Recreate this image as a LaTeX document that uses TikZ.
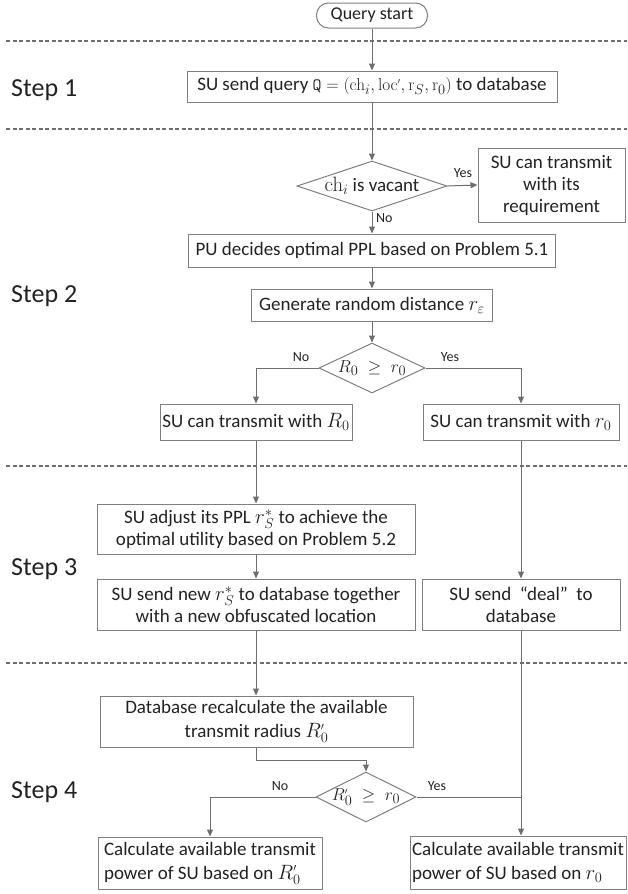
\documentclass[tikz,border=0pt]{standalone}
\usepackage[no-math]{fontspec}
\setmainfont{Carlito}
\usetikzlibrary{arrows.meta,shapes.geometric,calc}
\definecolor{linegray}{HTML}{6E6E6E}
\definecolor{boxgray}{HTML}{7F7F7F}
\definecolor{txt}{HTML}{222222}
% larger math symbols inside the boxes
\newcommand{\symm}[1]{{\fontsize{21}{21}\selectfont$#1$}}
% small prime as used in the formulas
\newcommand{\pr}{{\scriptscriptstyle\prime}}
\begin{document}
\begin{tikzpicture}[x=1pt,y=-1pt,
  every node/.style={font=\fontsize{19}{22}\selectfont, text=txt},
  box/.style={draw=boxgray, line width=1pt, inner sep=2pt, align=center},
  tallbox/.style={box, font=\fontsize{19}{24}\selectfont},
  dia/.style={draw=boxgray, line width=1pt, diamond, inner sep=0pt},
  arr/.style={draw=linegray, line width=1pt, -{Triangle[length=7pt,width=6pt]}},
  ln/.style={draw=linegray, line width=1pt},
  sep/.style={draw=linegray, line width=1.5pt, dash pattern=on 4pt off 2.5pt},
  steplbl/.style={font=\fontsize{26}{30}\selectfont, anchor=base west, inner sep=0pt},
  yn/.style={font=\fontsize{14}{16}\selectfont, inner sep=1pt}]
\useasboundingbox (0,0) rectangle (627,894);

% stage separators
\foreach \yy in {41,129,466,663} \draw[sep] (6,\yy) -- (627,\yy);

% stage labels
\node[steplbl] (s1) at (11,96) {Step 1};
\node[steplbl] (s2) at (11,302) {Step 2};
\node[steplbl] (s3) at (11,575) {Step 3};
\node[steplbl] (s4) at (11,798) {Step 4};

% nodes
\node[box, rounded corners=12pt, minimum width=111pt, minimum height=25pt, font=\fontsize{18}{20}\selectfont] (start) at (372,15.5) {Query start};
\node[box, minimum width=370pt, minimum height=31pt] (q) at (372,86.5)
  {SU send query $\mathtt{Q}=(\mathrm{ch}_i,\mathrm{loc}^{\pr},\mathrm{r}_S,\mathrm{r}_0)$ to database};
\node[dia, minimum width=150pt, minimum height=50pt] (d1) at (372,186) {};
\node (d1t) at (d1) {\symm{\mathrm{ch}_i} is vacant};
\node[box, minimum width=147pt, minimum height=74pt] (ok) at (551.5,185)
  {SU can transmit\\with its\\requirement};
\node[box, minimum width=367pt, minimum height=33pt] (pu) at (372,250.5)
  {PU decides optimal PPL based on Problem 5.1};
\node[box, minimum width=241pt, minimum height=32pt] (gen) at (372,305)
  {Generate random distance \symm{r_\varepsilon}};
\node[dia, minimum width=106pt, minimum height=50pt] (d2) at (372,368) {};
\node (d2t) at (d2) {$R_0\;\geq\;r_0$};
\node[box, minimum width=192pt, minimum height=36pt] (rl) at (256,422)
  {SU can transmit with \symm{R_0}};
\node[box, minimum width=196pt, minimum height=36pt] (rr) at (521,422)
  {SU can transmit with \symm{r_0}};
\node[box, minimum width=318pt, minimum height=50pt] (adj) at (256,529)
  {SU adjust its PPL \symm{r_S^*} to achieve the\\optimal utility based on Problem 5.2};
\node[box, minimum width=318pt, minimum height=51pt] (snd) at (256,604.5)
  {SU send new \symm{r_S^*} to database together\\with a new obfuscated location};
\node[box, minimum width=198pt, minimum height=51pt] (deal) at (521,604.5)
  {SU send~~“deal”~~to\\database};
\node[tallbox, minimum width=313pt, minimum height=51pt] (db) at (256.5,721.5)
  {Database recalculate the available\\transmit radius \symm{R_0^{\pr}}};
\node[dia, minimum width=100pt, minimum height=50pt] (d3) at (366,797) {};
\node (d3t) at (d3) {$R_0^{\pr}\;\geq\;r_0$};
\node[tallbox, minimum width=224pt, minimum height=52pt, align=left] (outl) at (210,863)
  {Calculate available transmit\\power of SU based on \symm{R_0^{\pr}}};
\node[tallbox, minimum width=216pt, minimum height=53pt, align=left] (outr) at (518,862.5)
  {Calculate available transmit\\power of SU based on \symm{r_0}};

% connectors
\draw[arr] (start.south) -- (q.north);
\draw[arr] (q.south) -- (d1.north);
\draw[arr] (d1.east) -- (ok.west);
\draw[arr] (d1.south) -- (pu.north);
\draw[arr] (pu.south) -- (gen.north);
\draw[arr] (gen.south) -- (d2.north);
\draw[arr] (d2.west) -| (rl.north);
\draw[arr] (d2.east) -| (rr.north);
\draw[arr] (rl.south) -- (adj.north);
\draw[arr] (adj.south) -- (snd.north);
\draw[arr] (rr.south) -- (deal.north);
\draw[arr] (snd.south) -- (snd.south |- db.north);
\draw[arr] (db.south) -- ++(0,13) -| (d3.north);
\draw[arr] (d3.west) -| (outl.north);
\draw[arr] (deal.south) -- (deal.south |- outr.north);
\draw[ln] (d3.east) -- (d3.east -| deal.south);

% branch labels
\node[yn] (y1) at (463,173) {Yes};
\node[yn, anchor=west] (n1) at (375,218) {No};
\node[yn] (n2) at (301,357) {No};
\node[yn] (y2) at (450,357) {Yes};
\node[yn] (n3) at (280,786) {No};
\node[yn] (y3) at (437,786) {Yes};
\end{tikzpicture}
\end{document}
